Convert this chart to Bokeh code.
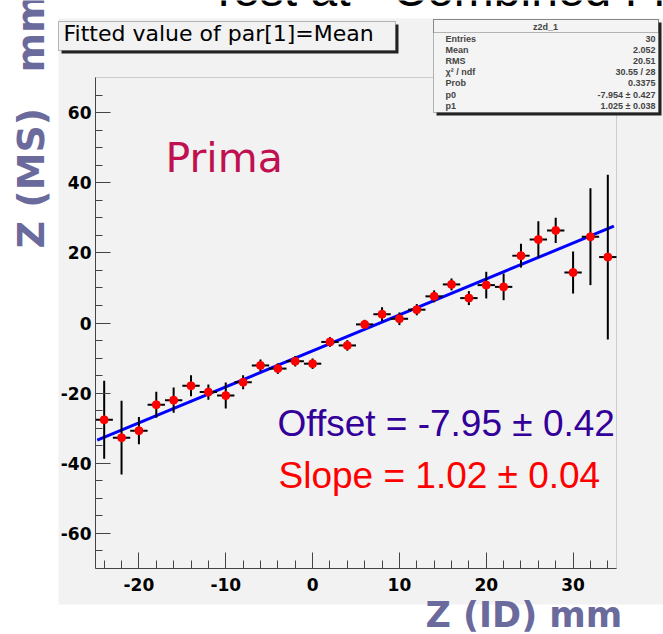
import numpy as np
from bokeh.plotting import figure
from bokeh.models import (Range1d, FixedTicker, Label, BoxAnnotation, LinearAxis,
                          PrintfTickFormatter)
from bokeh.embed import file_html
from bokeh.resources import INLINE

# ---- data ----
z_id = [-24, -22, -20, -18, -16, -14, -12, -10, -8, -6, -4, -2, 0, 2, 4, 6, 8, 10,
        12, 14, 16, 18, 20, 22, 24, 26, 28, 30, 32, 34]
z_ms = [-27.6, -32.7, -30.7, -23.3, -22.0, -17.9, -19.7, -20.7, -16.9, -12.1, -13.0,
        -10.9, -11.6, -5.4, -6.4, -0.4, 2.5, 1.2, 3.8, 7.6, 11.0, 7.1, 10.8, 10.3,
        19.2, 23.8, 26.4, 14.4, 24.6, 18.8]
z_ms_err = [11.1, 10.5, 3.9, 3.7, 3.6, 3.0, 2.2, 3.7, 2.0, 1.7, 1.5, 1.5, 1.5, 1.4,
            1.5, 1.3, 2.0, 1.8, 1.6, 1.7, 1.7, 2.0, 3.8, 3.8, 3.4, 5.2, 3.6, 6.0,
            13.8, 23.5]
bin_half_width = 1.0
fit_p0 = -7.954
fit_p1 = 1.025
fit_range = [-24.8, 34.7]

x_lo, x_hi = -25, 35
y_lo, y_hi = -70, 70
x_ticks = [-20, -10, 0, 10, 20, 30]
x_minor = list(range(-24, 35, 2))
y_ticks = [-60, -40, -20, 0, 20, 40, 60]
y_minor = list(range(-65, 70, 5))

stats_labels = ["Entries", "Mean", "RMS", "\u03c7\u00b2 / ndf", "Prob", "p0", "p1"]
stats_values = ["30", "2.052", "20.51", "30.55 / 28", "0.3375",
                "-7.954 \u00b1 0.427", "1.025 \u00b1 0.038"]

# ---- layout geometry (canvas pixels) ----
W, H = 663, 634
PX_L, PX_R, PX_T, PX_B = 95, 616, 77, 568   # axis box inside the canvas
FONT = "Liberation Sans"
WIDE = "DejaVu Sans"

sx = (PX_R - PX_L) / (x_hi - x_lo)
sy = (PX_B - PX_T) / (y_hi - y_lo)
xr = Range1d(x_lo - PX_L / sx, x_hi + (W - PX_R) / sx)
yr = Range1d(y_lo - (H - PX_B) / sy, y_hi + PX_T / sy)

p = figure(width=W, height=H, x_range=xr, y_range=yr,
           output_backend="svg", toolbar_location=None,
           x_axis_location=None, y_axis_location=None,
           min_border_left=0, min_border_right=0, min_border_top=0,
           min_border_bottom=0)
p.background_fill_color = "white"
p.border_fill_color = "white"
p.outline_line_color = None
p.xgrid.visible = False
p.ygrid.visible = False


def canvas_label(x, y, text, **kw):
    kw.setdefault("text_baseline", "bottom")
    p.add_layout(Label(x=x, y=y, x_units="canvas", y_units="canvas", text=text, **kw))


def canvas_box(l, r, t, b, **kw):
    p.add_layout(BoxAnnotation(left=l, right=r, top=t, bottom=b,
                               left_units="canvas", right_units="canvas",
                               top_units="canvas", bottom_units="canvas", **kw))


# gray pad area
canvas_box(58, W, 18, 604, fill_color="#f2f2f2", fill_alpha=1.0, line_alpha=0,
           level="underlay")

# axes box outline
p.add_layout(BoxAnnotation(left=x_lo, right=x_hi, bottom=y_lo, top=y_hi,
                           fill_alpha=0, line_color="#777777", line_width=1,
                           level="underlay"))

xax = LinearAxis(fixed_location=y_lo, bounds=(x_lo, x_hi))
yax = LinearAxis(fixed_location=x_lo, bounds=(y_lo, y_hi))
p.add_layout(xax, "below")
p.add_layout(yax, "left")
for ax, ticks, minor in ((xax, x_ticks, x_minor), (yax, y_ticks, y_minor)):
    ax.ticker = FixedTicker(ticks=ticks, minor_ticks=minor)
    ax.formatter = PrintfTickFormatter(format="%d")
    ax.major_tick_out = 0
    ax.minor_tick_out = 0
    ax.axis_line_color = "#444444"
    ax.major_tick_line_color = "#444444"
    ax.minor_tick_line_color = "#444444"
    ax.major_label_text_font = WIDE
    ax.major_label_text_font_style = "bold"
    ax.major_label_text_font_size = "17px"
    ax.major_label_text_color = "black"
xax.major_tick_in = 16
xax.minor_tick_in = 8
xax.major_label_standoff = 9
yax.major_tick_in = 15
yax.minor_tick_in = 7
yax.major_label_standoff = 4

# fit line
fx = np.array(fit_range)
p.line(fx, fit_p0 + fit_p1 * fx, line_color="#0000ff", line_width=3)

# error bars + points
xs = np.array(z_id, dtype=float)
ys = np.array(z_ms)
es = np.array(z_ms_err)
p.segment(x0=xs - bin_half_width, y0=ys, x1=xs + bin_half_width, y1=ys,
          line_color="black", line_width=2)
p.segment(x0=xs, y0=ys - es, x1=xs, y1=ys + es, line_color="black", line_width=2)
p.scatter(xs, ys, size=8, fill_color="#ff0000", line_color="#ff0000")

# title pave
canvas_box(61, 398, 24, 53, fill_color="#222222", fill_alpha=1, line_alpha=0)
canvas_box(58, 395, 21, 50, fill_color="#f2f2f2", fill_alpha=1, line_color="#222222",
           line_width=1)
canvas_label(63, 45, "Fitted value of par[1]=Mean", text_font=WIDE,
             text_font_size="22px", text_color="black")

# stats box
canvas_box(436, 661, 22, 115, fill_color="#222222", fill_alpha=1, line_alpha=0)
canvas_box(433, 658, 19, 112, fill_color="#f4f4f4", fill_alpha=1, line_color="#222222",
           line_width=1)
canvas_box(433, 658, 19, 32, fill_alpha=0, line_color="#222222", line_width=1)
canvas_label(545, 26, "z2d_1", text_font=FONT, text_font_size="9px",
             text_font_style="bold", text_align="center", text_baseline="middle")
row_y = [38, 49, 60, 71, 82.5, 94, 105]
for ry, lab, val in zip(row_y, stats_labels, stats_values):
    canvas_label(445, ry, lab, text_font=FONT, text_font_size="9px",
                 text_font_style="bold", text_baseline="middle")
    canvas_label(655, ry, val, text_font=FONT, text_font_size="9px",
                 text_font_style="bold", text_align="right", text_baseline="middle")

# in-pad texts
canvas_label(165, 181, "Prima", text_font=WIDE, text_font_size="41px",
             text_color="#c0104f")
canvas_label(277, 443, "Offset = -7.95 \u00b1 0.42", text_font=FONT,
             text_font_size="37px", text_color="#330099")
canvas_label(278, 495, "Slope = 1.02 \u00b1 0.04", text_font=FONT,
             text_font_size="37px", text_color="#ff0000")

# axis titles (slide overlays)
AX = "#6a6a9c"
canvas_label(52, 248, "Z (MS)", angle=np.pi / 2, text_font=WIDE,
             text_font_size="38px", text_font_style="bold", text_color=AX)
canvas_label(52, 72, "mm", angle=np.pi / 2, text_font=WIDE,
             text_font_size="38px", text_font_style="bold", text_color=AX)
canvas_label(425, 634, "Z (ID) mm", text_font=WIDE, text_font_size="35px",
             text_font_style="bold", text_color=AX)

# slide title (cut off at the top edge, as in the source slide)
canvas_label(350, 15, "Test at", text_font=FONT, text_font_size="48px",
             text_color="black", text_align="right")
canvas_label(392, 15, "Combined Fit", text_font=FONT, text_font_size="48px",
             text_color="black")

open("out.html", "w").write(file_html(p, INLINE))
